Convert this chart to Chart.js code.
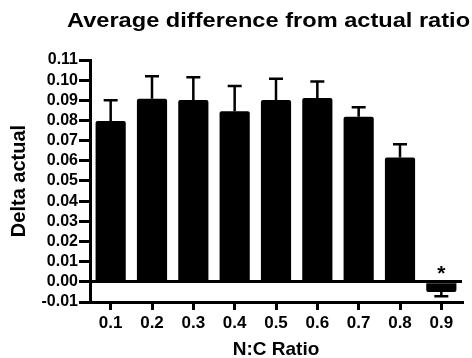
<!DOCTYPE html>
<html>
<head>
<meta charset="utf-8">
<script src="https://cdn.jsdelivr.net/npm/chart.js@4/dist/chart.umd.min.js"></script>
<style>
  html, body { margin: 0; padding: 0; background: #fff; }
  canvas { display: block; }
</style>
</head>
<body>
<canvas id="chart" width="472" height="358"></canvas>
<script>
// data
const ratios = ['0.1', '0.2', '0.3', '0.4', '0.5', '0.6', '0.7', '0.8', '0.9'];
const deltaMean = [0.0798, 0.0908, 0.0902, 0.0846, 0.0902, 0.0912, 0.0818, 0.0616, -0.0050];
const deltaErr = [0.0103, 0.0112, 0.0113, 0.0125, 0.0105, 0.0082, 0.0048, 0.0066, 0.0022];
const markers = ['', '', '', '', '', '', '', '', '*'];
const chartTitle = 'Average difference from actual ratio';

const FONT = 'Arial, "Liberation Sans", sans-serif';

// error bars (upward for positive bars, downward for negative)
const errorBars = {
  id: 'errorBars',
  afterDatasetsDraw(chart) {
    const ctx = chart.ctx;
    const y = chart.scales.y;
    const meta = chart.getDatasetMeta(0);
    ctx.save();
    ctx.strokeStyle = '#000';
    ctx.lineWidth = 2.5;
    meta.data.forEach((bar, i) => {
      const v = deltaMean[i];
      const end = y.getPixelForValue(v + (v >= 0 ? deltaErr[i] : -deltaErr[i]));
      ctx.beginPath();
      ctx.moveTo(bar.x, bar.y);
      ctx.lineTo(bar.x, end);
      ctx.moveTo(bar.x - 7, end);
      ctx.lineTo(bar.x + 7, end);
      ctx.stroke();
    });
    // significance markers
    ctx.fillStyle = '#000';
    ctx.font = 'bold 21px ' + FONT;
    ctx.textAlign = 'center';
    ctx.textBaseline = 'alphabetic';
    meta.data.forEach((bar, i) => {
      if (markers[i]) ctx.fillText(markers[i], bar.x, y.getPixelForValue(0) - 2);
    });
    ctx.restore();
  }
};

// title is wider than the canvas in the original, so it gets cut on the right
const wideTitle = {
  id: 'wideTitle',
  afterDraw(chart) {
    const ctx = chart.ctx;
    ctx.save();
    ctx.translate(67, 27);
    ctx.scale(1.18, 1);
    ctx.fillStyle = '#000';
    ctx.font = 'bold 20px ' + FONT;
    ctx.textBaseline = 'alphabetic';
    ctx.fillText(chartTitle, 0, 0);
    ctx.restore();
  }
};

new Chart(document.getElementById('chart'), {
  type: 'bar',
  data: {
    labels: ratios,
    datasets: [{
      data: deltaMean,
      backgroundColor: '#000',
      borderRadius: 2,
      barPercentage: 0.73,
      categoryPercentage: 1
    }]
  },
  options: {
    responsive: false,
    animation: false,
    devicePixelRatio: 1,
    layout: { padding: { top: 60, right: 10, left: 0, bottom: 0 } },
    plugins: { legend: { display: false }, tooltip: { enabled: false }, title: { display: false } },
    scales: {
      x: {
        afterFit: s => { s.height = 56; },
        border: { width: 3, color: '#000' },
        grid: { offset: false, drawOnChartArea: false, drawTicks: true, tickLength: 8, lineWidth: 3, color: '#000' },
        ticks: { color: '#000', font: { family: FONT, size: 17, weight: 'bold' }, padding: 3 },
        title: { display: true, text: 'N:C Ratio', color: '#000', font: { family: FONT, size: 19, weight: 'bold', lineHeight: 0.9 }, padding: { top: 0, bottom: 0 } }
      },
      y: {
        min: -0.01,
        max: 0.11,
        afterFit: s => { s.width = 90; },
        border: { width: 3, color: '#000' },
        grid: {
          drawTicks: true,
          tickLength: 11,
          lineWidth: 3,
          tickWidth: 3,
          tickColor: '#000',
          color: c => (c.tick && Math.abs(c.tick.value) < 1e-9) ? '#000' : 'rgba(0,0,0,0)'
        },
        ticks: {
          stepSize: 0.01,
          autoSkip: false,
          color: '#000',
          padding: 1,
          font: { family: FONT, size: 16, weight: 'bold', lineHeight: 1 },
          callback: v => Number(v).toFixed(2)
        },
        title: { display: true, text: 'Delta actual', color: '#000', font: { family: FONT, size: 20, weight: 'bold' }, padding: { top: 7, bottom: 0 } }
      }
    }
  },
  plugins: [errorBars, wideTitle]
});
</script>
</body>
</html>
